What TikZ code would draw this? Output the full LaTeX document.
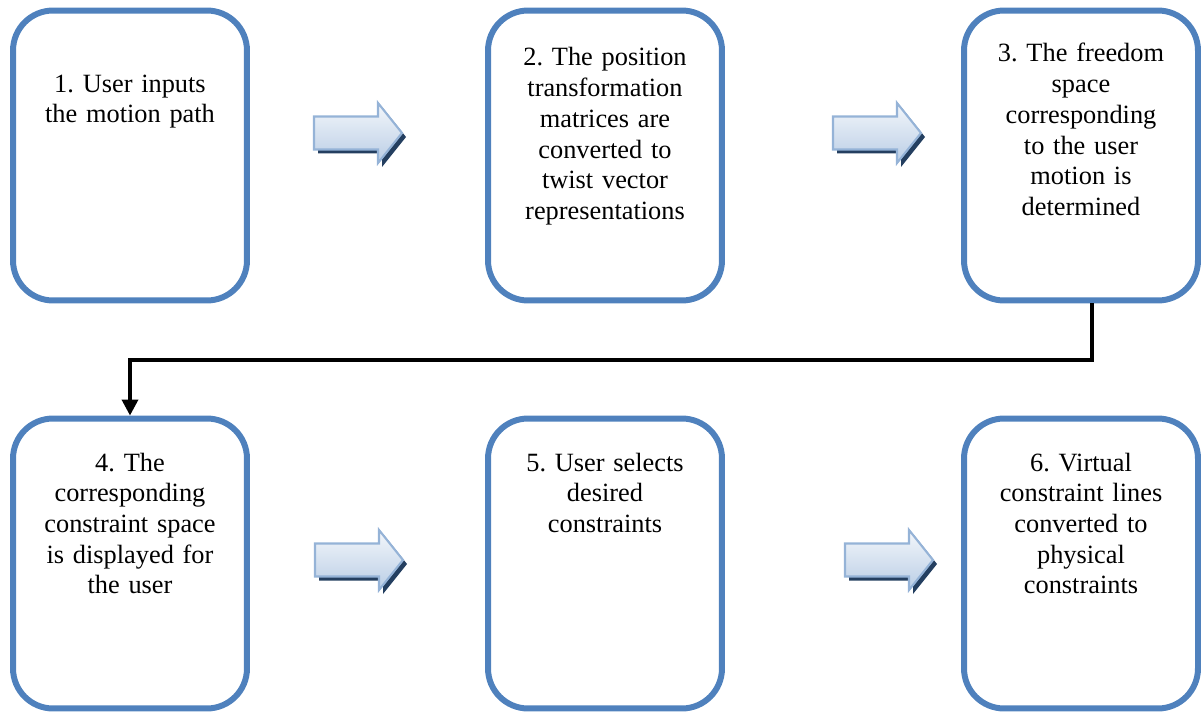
\documentclass[tikz,border=0pt]{standalone}
\usepackage{fontspec}
\setmainfont{Liberation Serif}
\usepackage{tikz}
\usetikzlibrary{arrows.meta}
\frenchspacing

\definecolor{boxblue}{HTML}{4F81BD}
\definecolor{arrowline}{HTML}{95B3D7}
\definecolor{arrowshadow}{HTML}{243F60}
\definecolor{arrowtop}{HTML}{F4F7FB}
\definecolor{arrowbottom}{HTML}{B9CDE5}

\begin{document}
\begin{tikzpicture}[x=0.02cm,y=-0.02cm]
  \tikzset{stepbox/.style = {shape=rectangle,draw=boxblue,line width=3.4pt,rounded corners=0.8cm,
      minimum width=4.68cm,minimum height=5.8cm,inner sep=0pt}}
  \tikzset{steptext/.style = {anchor=base,align=center,text width=4.4cm,inner sep=0pt,
      font=\fontsize{15pt}{17.5pt}\selectfont}}
  \tikzset{edge/.style = {line width=2pt,-{Triangle[length=0.32cm,width=0.32cm]}}}
  \tikzset{%
  blockarrow/.pic={
    \fill[arrowshadow] (4,-12.5) -- (68,-12.5) -- (68,-26) -- (92,4) -- (68,34) -- (68,20.5) -- (4,20.5) -- cycle;
    \draw[arrowline,line width=1.2pt,top color=arrowtop,bottom color=arrowbottom]
      (0,-16.5) -- (64,-16.5) -- (64,-30) -- (88,0) -- (64,30) -- (64,16.5) -- (0,16.5) -- cycle;
  },
}
  \useasboundingbox (0,0) rectangle (1204,713);

  % the six steps
  \foreach \n/\x/\y in {1/130/155.5, 2/605/155.5, 3/1081/155.5, 4/130/563.5, 5/605/563.5, 6/1081/563.5}
    \node[stepbox] (b\n) at (\x,\y) {};

  \node[steptext] (t1) at (130,92) {1. User inputs\\the motion path};
  \node[steptext] (t2) at (605,66) {2. The position\\transformation\\matrices are\\converted to\\twist vector\\representations};
  \node[steptext] (t3) at (1081,62) {3. The freedom\\space\\corresponding\\to the user\\motion is\\determined};
  \node[steptext] (t4) at (130,471) {4. The\\corresponding\\constraint space\\is displayed for\\the user};
  \node[steptext] (t5) at (605,471) {5. User selects\\desired\\constraints};
  \node[steptext] (t6) at (1081,471) {6. Virtual\\constraint lines\\converted to\\physical\\constraints};

  % block arrows between the steps
  \foreach \x/\y in {314/133, 833/133, 315/560, 845/560}
    \pic at (\x,\y) {blockarrow};

  % row change
  \coordinate (turn) at (600,360);
  \draw[edge] ([xshift=0.22cm]b3.south) |- (turn) -| (b4.north);

\end{tikzpicture}
\end{document}
